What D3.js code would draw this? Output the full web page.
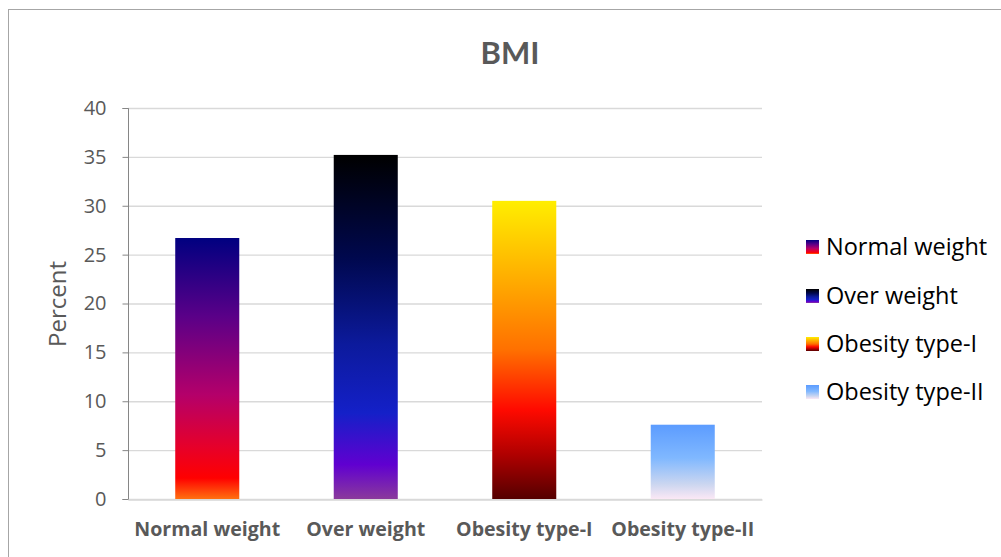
<!DOCTYPE html>
<html><head><meta charset="utf-8">
<script src="https://cdn.jsdelivr.net/npm/d3@7"></script>
<style>
html,body{margin:0;padding:0;background:#fff;}
svg{display:block;}
text{font-family:"Open Sans",sans-serif;}
</style></head>
<body>
<script>
const categories = ["Normal weight","Over weight","Obesity type-I","Obesity type-II"];
const values = [26.7, 35.2, 30.5, 7.6];
const yTicks = [0,5,10,15,20,25,30,35,40];
const gradients = [
  [[0,"#000080"],[0.3,"#5a0088"],[0.6,"#b4006a"],[0.8,"#e6002a"],[0.92,"#ff0000"],[1,"#ff7010"]],
  [[0,"#000000"],[0.3,"#00084e"],[0.55,"#0c1a9c"],[0.75,"#1420c8"],[0.9,"#6000d0"],[1,"#8a3a9c"]],
  [[0,"#ffee00"],[0.25,"#ffb000"],[0.5,"#ff7000"],[0.7,"#ff0a00"],[0.85,"#b00000"],[1,"#550000"]],
  [[0,"#5c9cff"],[0.45,"#80b8ff"],[0.8,"#cbd6f0"],[1,"#fbe8f5"]]
];

const W=1001,H=557;
const svg=d3.select("body").append("svg").attr("width",W).attr("height",H);
svg.append("rect").attr("x",8.5).attr("y",9.5).attr("width",W).attr("height",H)
  .attr("fill","#fff").attr("stroke","#a6a6a6").attr("stroke-width",1);

const defs=svg.append("defs");
gradients.forEach((g,i)=>{
  const lg=defs.append("linearGradient").attr("id","g"+i).attr("x1",0).attr("y1",0).attr("x2",0).attr("y2",1);
  g.forEach(s=>lg.append("stop").attr("offset",s[0]).attr("stop-color",s[1]));
});

const x=d3.scaleBand().domain(categories).range([128,762]).paddingInner(0.596).paddingOuter(0.298);
const y=d3.scaleLinear().domain([0,40]).range([499,108]);

// gridlines
svg.append("g").selectAll("line").data(yTicks).join("line")
  .attr("x1",128).attr("x2",762).attr("y1",d=>y(d)+0.5).attr("y2",d=>y(d)+0.5)
  .attr("stroke","#d9d9d9").attr("stroke-width",1.3);

// bars
svg.append("g").selectAll("rect").data(values).join("rect")
  .attr("x",(d,i)=>x(categories[i])).attr("width",x.bandwidth())
  .attr("y",d=>y(d)).attr("height",d=>y(0)-y(d))
  .attr("fill",(d,i)=>`url(#g${i})`);

// y axis
const ya=svg.append("g").attr("transform","translate(128.5,0)")
  .call(d3.axisLeft(y).tickValues(yTicks).tickSize(6).tickPadding(16));
ya.select(".domain").attr("stroke","#868686").attr("d","M-6,108.5H0V499.5H-6");
ya.selectAll(".tick line").attr("stroke","#868686");
ya.selectAll(".tick text").attr("fill","#595959").style("font-size","20px").style("font-family","'Open Sans', sans-serif");

// x axis labels
const xa=svg.append("g").attr("transform","translate(0,499.5)")
  .call(d3.axisBottom(x).tickSize(0).tickPadding(23));
xa.select(".domain").attr("stroke","#d9d9d9").attr("stroke-width",1.3);
xa.selectAll(".tick text").attr("fill","#595959").style("font-size","19.6px").style("font-weight","bold").style("font-family","'Open Sans', sans-serif");

// y title
svg.append("text").attr("transform","translate(66,304) rotate(-90)")
  .attr("text-anchor","middle").attr("fill","#595959").style("font-size","24px").text("Percent");

// title
svg.append("text").attr("x",510).attr("y",64).attr("text-anchor","middle")
  .attr("fill","#595959").style("font-family","Lato, sans-serif").style("font-size","31px").style("font-weight","bold").text("BMI");

// legend
const lg=svg.append("g");
const ly=[247,296,344,392];
categories.forEach((c,i)=>{
  lg.append("rect").attr("x",806).attr("y",ly[i]-7).attr("width",13).attr("height",14).attr("fill",`url(#g${i})`);
  lg.append("text").attr("x",826).attr("y",ly[i]+8).attr("fill","#000").style("font-size","23.5px").text(c);
});
</script>
</body></html>
